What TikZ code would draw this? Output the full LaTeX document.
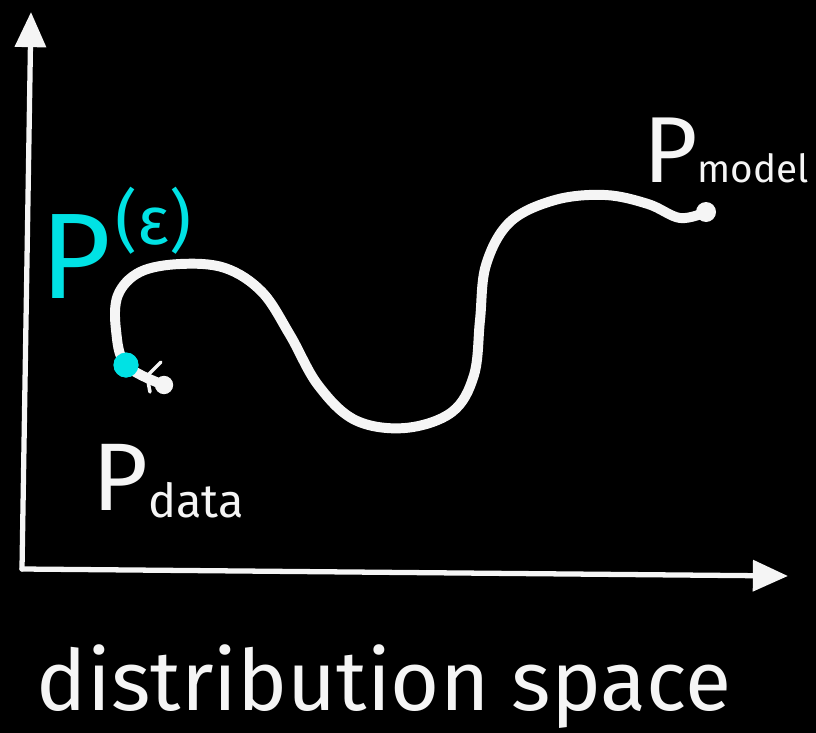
\documentclass[tikz,border=0pt]{standalone}
\usepackage{fontspec}
\setmainfont{Fira Sans}
\usetikzlibrary{arrows.meta}
\definecolor{chalk}{RGB}{245,245,245}
\definecolor{epscyan}{RGB}{0,226,228}

\begin{document}
\begin{tikzpicture}[
  x=0.03cm, y=-0.03cm,
  every node/.style={text=chalk, inner sep=0pt},
  axis/.style={draw=chalk, line width=4.5pt, line cap=round,
    -{Triangle[length=30pt, width=26pt]}},
  track/.style={draw=chalk, line width=8.5pt, line cap=round, line join=round}
]

% board
\path[use as bounding box, fill=black] (0,0) rectangle (816,733);

% axes
\coordinate (origin) at (22,569);
\coordinate (ytip) at (31,12);
\coordinate (xtip) at (788,576);
\draw[axis] (origin) -- (ytip);
\draw[axis] (origin) -- (xtip);

% end points
\node[circle, fill=chalk, minimum size=0.55cm] (datadot) at (164,385) {};
\node[circle, fill=epscyan, minimum size=0.75cm] (epsdot) at (126,365) {};
\node[circle, fill=chalk, minimum size=0.6cm] (modeldot) at (706,212) {};

% path through distribution space
\draw[track] plot[smooth, tension=0.6] coordinates {
  (datadot.center) (epsdot.center) (116,330) (118,295) (140,272) (180,264)
  (225,268) (262,292) (290,335) (318,385) (355,420) (405,428) (452,412)
  (474,375) (480,320) (486,265) (510,222) (555,200) (605,195) (648,204)
  (680,218) (modeldot.center)};
\node[circle, fill=epscyan, minimum size=0.75cm] at (epsdot) {};
\draw[chalk, line width=3pt, line cap=round] (161,362) -- (147,376) -- (150,392);

% labels
\node[anchor=base west] (pmodel) at (643,183)
  {\fontsize{80}{80}\selectfont P\fontsize{33}{33}\selectfont model};
\node[anchor=base west] (pdata) at (92,510)
  {\fontsize{82}{82}\selectfont P\raisebox{-6pt}{\fontsize{40}{40}\selectfont data}};
\node[anchor=base west, text=epscyan] (peps) at (40,298)
  {\fontsize{104}{104}\selectfont P\kern4pt\raisebox{46pt}{\fontsize{58}{58}\selectfont(ε)}};
\node[anchor=base] (space) at (384,710)
  {\fontsize{72}{72}\selectfont distribution space};

\end{tikzpicture}
\end{document}
